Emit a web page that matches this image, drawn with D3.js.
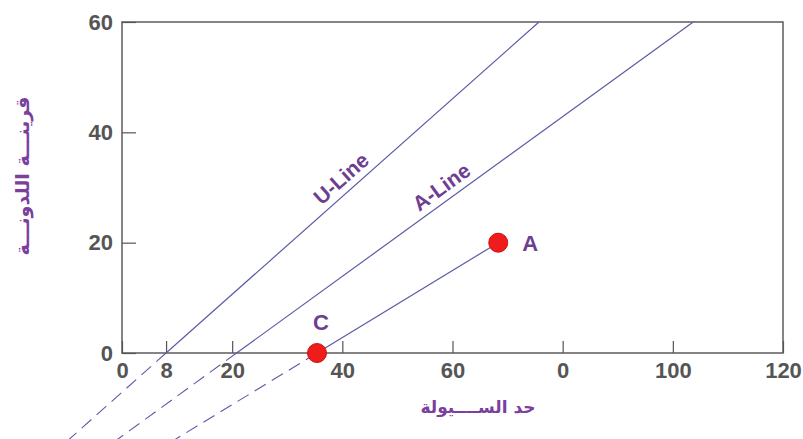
<!DOCTYPE html>
<html>
<head>
<meta charset="utf-8">
<script src="https://cdn.jsdelivr.net/npm/d3@7"></script>
<style>
  html, body { margin: 0; padding: 0; background: #fff; }
  svg { display: block; }
</style>
</head>
<body>
<div id="chart"></div>
<script>
// axis ticks (the "80" tick is labelled 0 in the original figure)
const xTicks = [0, 8, 20, 40, 60, 80, 100, 120];
const xTickLabels = ["0", "8", "20", "40", "60", "0", "100", "120"];
const yTicks = [0, 20, 40, 60];

// lines as [liquid limit, plasticity index] end points
const uLine = [[8, 0], [75.7, 60]];
const aLine = [[20.8, 0], [103.7, 60]];
const uLineDash = [[8, 0], [-10, -16]];
const aLineDash = [[20.8, 0], [-1.3, -16]];
const caDash = [[35.4, 0], [9.1, -16]];

const soils = [
  { name: "C", ll: 35.4, pi: 0 },
  { name: "A", ll: 68.3, pi: 20 }
];

const lineLabels = [
  { text: "U-Line", line: uLine, at: 41.5 },
  { text: "A-Line", line: aLine, at: 59.5 }
];

const width = 803, height = 439;

const svg = d3.select("#chart").append("svg")
  .attr("width", width)
  .attr("height", height);

const x = d3.scaleLinear().domain([0, 120]).range([122, 783]);
const y = d3.scaleLinear().domain([0, 60]).range([353, 22]);

const lineColor = "#5b5ba6";
const purple = "#6d3f92";

// frame
svg.append("rect")
  .attr("x", x(0))
  .attr("y", y(60))
  .attr("width", x(120) - x(0))
  .attr("height", y(0) - y(60))
  .attr("fill", "none")
  .attr("stroke", "#666")
  .attr("stroke-width", 1.6);

// x axis, ticks pointing inward
const gx = svg.append("g")
  .attr("transform", `translate(0,${y(0)})`)
  .call(d3.axisBottom(x)
    .tickValues(xTicks)
    .tickFormat((d, i) => xTickLabels[i])
    .tickSizeInner(-12)
    .tickSizeOuter(0)
    .tickPadding(9));
gx.select(".domain").remove();
gx.selectAll(".tick line").attr("stroke", "#555").attr("stroke-width", 1.2);
gx.selectAll("text")
  .style("font-family", "'Liberation Sans', Arial, sans-serif")
  .style("font-size", "22px")
  .style("font-weight", "bold")
  .attr("fill", "#555");

// y axis
const gy = svg.append("g")
  .attr("transform", `translate(${x(0)},0)`)
  .call(d3.axisLeft(y)
    .tickValues(yTicks)
    .tickSizeInner(-14)
    .tickSizeOuter(0)
    .tickPadding(9));
gy.select(".domain").remove();
gy.selectAll(".tick line").attr("stroke", "#555").attr("stroke-width", 1.2);
gy.selectAll("text")
  .style("font-family", "'Liberation Sans', Arial, sans-serif")
  .style("font-size", "22px")
  .style("font-weight", "bold")
  .attr("fill", "#555");

const line = d3.line().x(d => x(d[0])).y(d => y(d[1]));

// solid lines
[uLine, aLine, soils.map(d => [d.ll, d.pi])].forEach(pts => {
  svg.append("path")
    .attr("d", line(pts))
    .attr("fill", "none")
    .attr("stroke", lineColor)
    .attr("stroke-width", 1.2);
});

// dashed extensions below the axis
[uLineDash, aLineDash, caDash].forEach(pts => {
  svg.append("path")
    .attr("d", line(pts))
    .attr("fill", "none")
    .attr("stroke", lineColor)
    .attr("stroke-width", 1.1)
    .attr("stroke-dasharray", "13,7");
});

// line labels, rotated along each line
lineLabels.forEach(l => {
  const f = d3.scaleLinear().domain([l.line[0][0], l.line[1][0]]).range([l.line[0][1], l.line[1][1]]);
  const px = x(l.at), py = y(f(l.at));
  const ang = Math.atan2(y(l.line[1][1]) - y(l.line[0][1]), x(l.line[1][0]) - x(l.line[0][0])) * 180 / Math.PI;
  svg.append("text")
    .attr("transform", `translate(${px},${py}) rotate(${ang})`)
    .attr("dy", -7)
    .attr("text-anchor", "middle")
    .style("font-family", "'Liberation Sans', Arial, sans-serif")
    .style("font-size", "21px")
    .style("font-weight", "bold")
    .attr("fill", purple)
    .text(l.text);
});

// soil points
svg.selectAll(".soil")
  .data(soils)
  .enter()
  .append("circle")
  .attr("class", "soil")
  .attr("cx", d => x(d.ll))
  .attr("cy", d => y(d.pi))
  .attr("r", 9.5)
  .attr("fill", "#ee1c1c")
  .attr("stroke", "#d01010")
  .attr("stroke-width", 1);

svg.selectAll(".soil-label")
  .data(soils)
  .enter()
  .append("text")
  .attr("class", "soil-label")
  .attr("x", d => d.name === "C" ? x(d.ll) + 4 : x(d.ll) + 32)
  .attr("y", d => d.name === "C" ? y(d.pi) - 31 : y(d.pi) + 1)
  .attr("dy", "0.35em")
  .attr("text-anchor", "middle")
  .style("font-family", "'Liberation Sans', Arial, sans-serif")
  .style("font-size", "22px")
  .style("font-weight", "bold")
  .attr("fill", purple)
  .text(d => d.name);

// axis titles
svg.append("text")
  .attr("x", 478)
  .attr("y", 407)
  .attr("dy", "0.35em")
  .attr("text-anchor", "middle")
  .style("font-family", "'DejaVu Sans', sans-serif")
  .style("font-size", "17px")
  .style("font-weight", "bold")
  .attr("fill", "#7b3f9e")
  .text("حد الســــيولة");

svg.append("text")
  .attr("transform", "translate(22,176) rotate(-90)")
  .attr("dy", "0.35em")
  .attr("text-anchor", "middle")
  .style("font-family", "'DejaVu Sans', sans-serif")
  .style("font-size", "19px")
  .style("font-weight", "bold")
  .attr("fill", "#7b3f9e")
  .text("قرينـــة اللدونـــة");
</script>
</body>
</html>
